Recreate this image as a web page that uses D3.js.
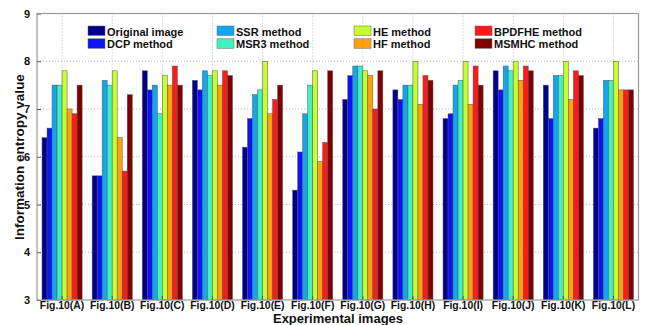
<!DOCTYPE html>
<html>
<head>
<meta charset="utf-8">
<script src="https://cdn.jsdelivr.net/npm/d3@7"></script>
<style>
    body { margin: 0; background: #fff; }
    svg text { font-family: Arial, "Liberation Sans", sans-serif; font-weight: bold; }
</style>
</head>
<body>
<svg id="chart" width="654" height="325"></svg>
<script>
// groups on the x axis
const groups = ['Fig.10(A)', 'Fig.10(B)', 'Fig.10(C)', 'Fig.10(D)', 'Fig.10(E)', 'Fig.10(F)',
    'Fig.10(G)', 'Fig.10(H)', 'Fig.10(I)', 'Fig.10(J)', 'Fig.10(K)', 'Fig.10(L)'];
const methods = ['Original image', 'DCP method', 'SSR method', 'MSR3 method',
    'HE method', 'HF method', 'BPDFHE method', 'MSMHC method'];
const method_colors = ['#00008c', '#0a14f5', '#12a6f0', '#40f2c0', '#c6ff30', '#ffa010', '#ff1a1a', '#7f0000'];
// one value per group, one array per method
const original = [6.4, 5.6, 7.8, 7.6, 6.2, 5.3, 7.2, 7.4, 6.8, 7.8, 7.5, 6.6];
const dcp      = [6.6, 5.6, 7.4, 7.4, 6.8, 6.1, 7.7, 7.2, 6.9, 7.4, 6.8, 6.8];
const ssr      = [7.5, 7.6, 7.5, 7.8, 7.3, 6.9, 7.9, 7.5, 7.5, 7.9, 7.7, 7.6];
const msr3     = [7.5, 7.5, 6.9, 7.7, 7.4, 7.5, 7.9, 7.5, 7.6, 7.8, 7.7, 7.6];
const he       = [7.8, 7.8, 7.7, 7.8, 8.0, 7.8, 7.8, 8.0, 8.0, 8.0, 8.0, 8.0];
const hf       = [7.0, 6.4, 7.5, 7.5, 6.9, 5.9, 7.7, 7.1, 7.1, 7.6, 7.2, 7.4];
const bpdfhe   = [6.9, 5.7, 7.9, 7.8, 7.2, 6.3, 7.0, 7.7, 7.9, 7.9, 7.8, 7.4];
const msmhc    = [7.5, 7.3, 7.5, 7.7, 7.5, 7.8, 7.8, 7.6, 7.5, 7.8, 7.7, 7.4];
const series = [original, dcp, ssr, msr3, he, hf, bpdfhe, msmhc];
const y_ticks = [3, 4, 5, 6, 7, 8, 9];

const svg = d3.select('svg#chart');
const m_left = 37, m_right = 638.5, m_top = 13.5, m_bottom = 300;

let x = d3.scaleBand().domain(groups).range([m_left, m_right]).paddingInner(0).paddingOuter(0);
let xi = d3.scaleBand().domain(d3.range(methods.length)).range([0, x.bandwidth() * 0.8]);
let y = d3.scaleLinear().domain([3, 9]).range([m_bottom, m_top]);

// grid (dotted, like matlab)
let grid = svg.append('g').attr('id', 'grid');
grid.selectAll('line.hg')
    .data(y_ticks.slice(1, -1))
    .enter().append('line')
    .attr('x1', m_left).attr('x2', m_right)
    .attr('y1', d => y(d)).attr('y2', d => y(d))
    .style('stroke', '#b8b8b8').style('stroke-dasharray', '1,2');
grid.selectAll('line.vg')
    .data(groups)
    .enter().append('line')
    .attr('x1', d => x(d) + x.bandwidth() / 2).attr('x2', d => x(d) + x.bandwidth() / 2)
    .attr('y1', m_top).attr('y2', m_bottom)
    .style('stroke', '#b8b8b8').style('stroke-dasharray', '1,2');

// bars
let bars = svg.append('g').attr('id', 'bars');
let g = bars.selectAll('g')
    .data(groups)
    .enter().append('g')
    .attr('transform', d => 'translate(' + (x(d) + x.bandwidth() * 0.1) + ',0)');
g.selectAll('rect')
    .data((d, gi) => series.map((s, mi) => ({m: mi, v: s[gi]})))
    .enter().append('rect')
    .attr('x', d => xi(d.m))
    .attr('width', xi.bandwidth())
    .attr('y', d => y(d.v))
    .attr('height', d => m_bottom - y(d.v))
    .style('fill', d => method_colors[d.m])
    .style('stroke', '#555').style('stroke-width', 0.5);

// axes
let yAxis = d3.axisLeft(y).tickValues(y_ticks).tickSize(4).tickPadding(3).tickFormat(d3.format('d'));
let xAxis = d3.axisBottom(x).tickSize(0).tickPadding(2);
let ya = svg.append('g').attr('transform', 'translate(' + m_left + ',0)').call(yAxis);
ya.select('.domain').remove();
ya.selectAll('line').attr('x2', 4).style('stroke', '#555');
ya.selectAll('text').style('font-size', '11px').style('fill', '#111');
let xa = svg.append('g').attr('transform', 'translate(0,' + m_bottom + ')').call(xAxis);
xa.select('.domain').remove();
xa.selectAll('text').style('font-size', '10.4px').style('fill', '#111');
// small bottom ticks at group centres
xa.selectAll('.tick').append('line').attr('y1', 0).attr('y2', -4).style('stroke', '#555');

svg.append('rect')
    .attr('x', m_left).attr('y', m_top)
    .attr('width', m_right - m_left).attr('height', m_bottom - m_top)
    .style('fill', 'none').style('stroke', '#999').style('stroke-width', 1.2);

// legend, 4 columns x 2 rows
const leg_x = [88, 217, 354, 475];
let leg = svg.append('g').attr('id', 'legend');
let items = leg.selectAll('g')
    .data(methods)
    .enter().append('g')
    .attr('transform', (d, i) => 'translate(' + leg_x[Math.floor(i / 2)] + ',' + (26 + (i % 2) * 12.8) + ')');
items.append('rect')
    .attr('width', 17).attr('height', 9.5)
    .style('fill', (d, i) => method_colors[i])
    .style('stroke', '#666').style('stroke-width', 0.5);
items.append('text')
    .attr('x', 19).attr('y', 9.5)
    .style('font-size', '11px').style('fill', '#111')
    .text(d => d);

// axis titles
svg.append('text')
    .attr('transform', 'translate(24,157) rotate(-90)')
    .attr('text-anchor', 'middle')
    .style('font-size', '13.5px').style('fill', '#111')
    .text('Information entropy value');
svg.append('text')
    .attr('x', 338).attr('y', 322.5)
    .attr('text-anchor', 'middle')
    .style('font-size', '13px').style('fill', '#111')
    .text('Experimental images');
</script>
</body>
</html>
